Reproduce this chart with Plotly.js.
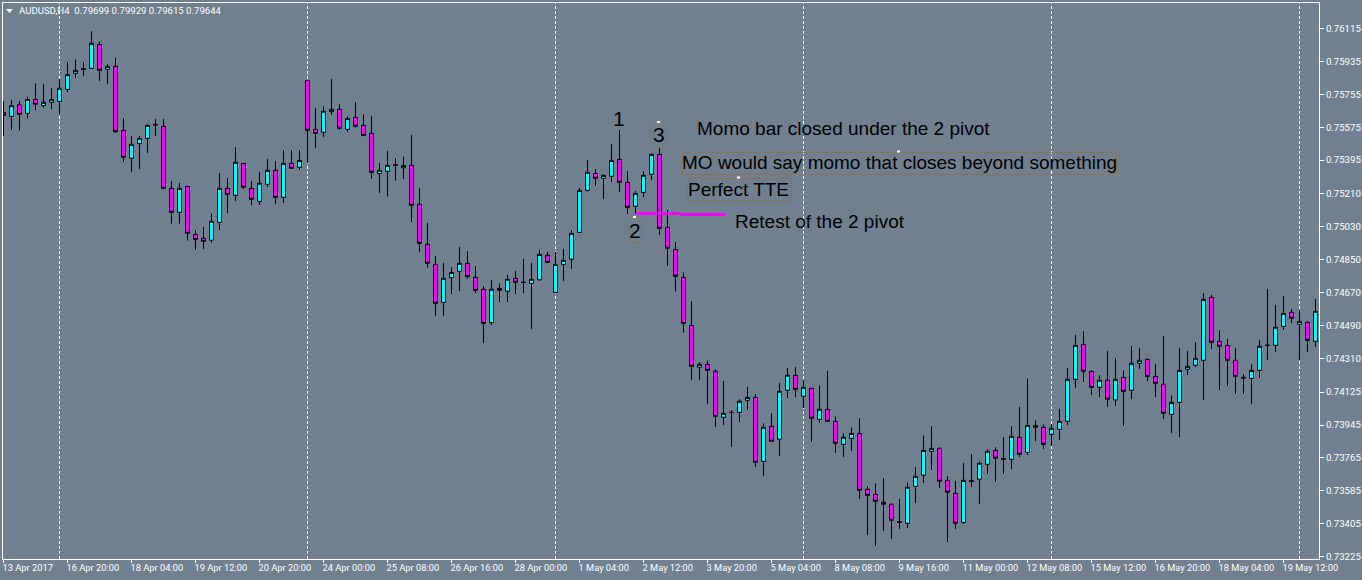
<!DOCTYPE html>
<html>
<head>
<meta charset="utf-8">
<script src="https://cdn.plot.ly/plotly-3.0.1.min.js"></script>
<style>html,body{margin:0;padding:0;background:#708090;overflow:hidden}</style>
</head>
<body>
<div id="chart" style="width:1362px;height:580px"></div>
<script>
// Prices, in units of 0.00001
const openPts = [75654,75634,75698,75651,75727,75693,75711,75716,75782,75870,75896,75897,76027,75892,75908,75558,75405,75485,75514,75591,75580,75240,75109,75251,74988,74967,74956,75054,75240,75202,75377,75240,75169,75262,75339,75191,75377,75355,75831,75563,75547,75660,75673,75563,75629,75585,75541,75321,75333,75370,75353,75366,75153,74934,74824,74616,74751,74786,74830,74753,74688,74505,74693,74677,74748,74726,74720,74740,74874,74671,74824,74852,74999,75229,75322,75295,75306,75399,75273,75142,75218,75317,75426,75027,74906,74753,74490,74261,74277,74239,73987,74014,74014,74080,74096,73746,73938,73867,74135,74217,74102,74146,73976,74031,73965,73839,73872,73899,73593,73566,73522,73511,73416,73407,73609,73670,73801,73817,73642,73571,73412,73641,73648,73730,73806,73761,73757,73878,73795,73943,73932,73894,73921,73965,74195,74386,74239,74151,74190,74082,74206,74135,74283,74304,74211,74168,74003,74069,74250,74272,74299,74644,74403,74381,74299,74206,74200,74244,74381,74381,74485,74562,74496,74507,74403];
const highPts = [75718,75724,75718,75742,75815,75811,75789,75839,75932,75946,75932,76100,76045,75919,75957,75625,75527,75527,75591,75620,75620,75280,75270,75251,75012,75029,75103,75324,75297,75466,75377,75280,75330,75401,75390,75450,75450,75450,75831,75680,75689,75839,75700,75632,75711,75645,75636,75379,75445,75406,75415,75532,75242,75051,74870,74832,74808,74919,74897,74815,74704,74739,74720,74766,74788,74854,74832,74903,74892,74892,74908,75012,75242,75395,75346,75317,75483,75560,75335,75226,75333,75432,75461,75122,74947,74781,74622,74288,74299,74250,74186,74027,74086,74153,74113,73954,74009,74175,74257,74262,74190,74146,74162,74241,73992,73899,73932,73982,73611,73626,73653,73516,73540,73631,73715,73888,73938,73823,73666,73639,73737,73785,73746,73812,73823,73878,73938,74044,74200,73971,73949,73949,74033,74257,74438,74459,74244,74217,74350,74312,74244,74377,74366,74310,74279,74432,74107,74366,74350,74397,74666,74657,74463,74416,74366,74222,74277,74410,74689,74602,74651,74580,74574,74512,74635];
const lowPts = [75527,75560,75556,75622,75669,75682,75674,75647,75767,75844,75855,75897,75828,75811,75545,75384,75330,75346,75434,75527,75235,75047,75047,74954,74903,74908,74943,75012,75105,75171,75238,75149,75149,75248,75154,75160,75348,75341,75379,75461,75521,75642,75560,75550,75574,75529,75293,75215,75195,75282,75291,75056,74892,74806,74542,74542,74662,74678,74744,74667,74394,74492,74618,74618,74662,74667,74470,74735,74832,74666,74733,74799,74999,75222,75253,75182,75275,75220,75100,75103,75193,75286,74985,74817,74675,74450,74191,74191,74060,73934,73945,73825,73961,74027,73715,73666,73856,73775,74093,74098,74038,73852,73956,73963,73792,73770,73803,73540,73343,73283,73365,73321,73376,73381,73518,73628,73699,73600,73305,73376,73403,73606,73513,73677,73633,73677,73704,73770,73781,73857,73814,73830,73863,73945,74148,74180,74109,74098,74044,74049,73940,74087,74252,74186,74098,73978,73901,73879,74219,74262,74082,74361,74137,74158,74115,74115,74060,74202,74301,74345,74467,74503,74301,74345,74372];
const closePts = [75640,75693,75645,75727,75700,75711,75727,75788,75862,75886,75891,76034,75886,75908,75550,75410,75481,75514,75585,75587,75240,75109,75240,74994,74961,74950,75060,75240,75207,75383,75246,75180,75268,75339,75191,75377,75350,75393,75558,75541,75662,75673,75569,75622,75580,75529,75328,75339,75366,75366,75366,75147,74939,74830,74611,74748,74780,74830,74757,74682,74501,74688,74682,74742,74726,74726,74742,74879,74835,74824,74846,74994,75229,75328,75295,75311,75393,75273,75136,75213,75311,75426,75021,74912,74759,74501,74266,74277,74244,73992,74009,74014,74075,74096,73741,73932,73856,74129,74217,74140,74151,73982,74031,73965,73845,73878,73899,73587,73560,73527,73511,73423,73412,73604,73664,73806,73817,73637,73577,73407,73642,73637,73735,73801,73763,73757,73883,73785,73943,73932,73839,73927,73965,74195,74381,74239,74151,74190,74086,74195,74129,74283,74299,74211,74173,74009,74069,74244,74266,74310,74633,74397,74376,74299,74211,74202,74244,74376,74381,74480,74556,74529,74512,74408,74567];

const priceTicks = ["0.76115","0.75935","0.75755","0.75575","0.75395","0.75210","0.75030","0.74850","0.74670","0.74490","0.74310","0.74125","0.73945","0.73765","0.73585","0.73405","0.73225"];
const timeLabels = ["13 Apr 2017","16 Apr 20:00","18 Apr 04:00","19 Apr 12:00","20 Apr 20:00","24 Apr 00:00","25 Apr 08:00","26 Apr 16:00","28 Apr 00:00","1 May 04:00","2 May 12:00","3 May 20:00","5 May 04:00","8 May 08:00","9 May 16:00","11 May 00:00","12 May 08:00","15 May 12:00","16 May 20:00","18 May 04:00","19 May 12:00"];
const labelEveryBars = 8;
const periodSeparators = [7,38,69,100,131,162];
const headerText = "AUDUSD,H4  0.79699 0.79929 0.79615 0.79644";

const price = p => p / 1e5;
const bars = openPts.map((_, i) => i);

// page-pixel helpers for the hand-drawn objects on the chart
const L = 3, T = 3, W = 1316, H = 556;
const X = px => (px - L) / W;
const Y = py => 1 - (py - T) / H;
const GREY = '#708090';
const UI = "Roboto,sans-serif";
const UISIZE = 9.3;
const DRAW = "'Liberation Sans',Arial,sans-serif";

const shapes = periodSeparators.map(b => ({
  type: 'line', xref: 'x', yref: 'paper', x0: b, x1: b, y0: 0, y1: 1, layer: 'below',
  line: {color: '#ffffff', width: 1, dash: '3px,2px'}
}));
// the two magenta retest lines
[[635.5, 680, 213.5], [680, 725, 214.5]].forEach(s => shapes.push({
  type: 'line', xref: 'paper', yref: 'paper', x0: X(s[0]), x1: X(s[1]), y0: Y(s[2]), y1: Y(s[2]),
  layer: 'below', line: {color: '#ff00ff', width: 3}
}));
// selection boxes round text objects
[[682.5, 152.5, 1116.5, 174.5], [687.5, 178.5, 791.5, 200.5], [653.5, 123.5, 665.5, 147.5], [629.5, 218.5, 641.5, 242.5]].forEach(b => shapes.push({
  type: 'rect', xref: 'paper', yref: 'paper', x0: X(b[0]), x1: X(b[2]), y0: Y(b[1]), y1: Y(b[3]),
  layer: 'above', line: {color: '#8a7458', width: 1}, fillcolor: 'rgba(0,0,0,0)'
}));
// small white anchor handles
[[658.5, 122], [634.5, 217], [738.5, 177.5], [898.5, 151.5]].forEach(d => shapes.push({
  type: 'rect', xref: 'paper', yref: 'paper', x0: X(d[0] - 1.5), x1: X(d[0] + 1.5), y0: Y(d[1] - 1), y1: Y(d[1] + 1),
  layer: 'above', line: {width: 0}, fillcolor: '#ffffff'
}));
// header triangle
shapes.push({
  type: 'path', xref: 'paper', yref: 'paper',
  path: `M ${X(6)} ${Y(9)} L ${X(13)} ${Y(9)} L ${X(9.5)} ${Y(13)} Z`,
  fillcolor: '#ffffff', line: {width: 0}, layer: 'above'
});

const note = (text, px, py, size, anchor) => ({
  text, xref: 'paper', yref: 'paper', x: X(px), y: Y(py), xanchor: anchor || 'left', yanchor: 'middle',
  showarrow: false, borderpad: 0, font: {family: DRAW, size: size, color: '#000000'}
});
const annotations = [
  note('Momo bar closed under the 2 pivot', 696, 128.6, 19),
  note('MO would say momo that closes beyond something', 681, 162.6, 19),
  note('Perfect TTE', 686.5, 189.6, 19),
  note('Retest of the 2 pivot', 733.5, 221.6, 19),
  note('1', 618.5, 118, 21, 'center'),
  note('2', 634.5, 230, 21, 'center'),
  note('3', 659, 135, 21, 'center'),
  {text: headerText.replace('  ', '&nbsp;&nbsp;'), xref: 'paper', yref: 'paper', x: X(18), y: Y(10.5), xanchor: 'left', yanchor: 'middle',
   showarrow: false, borderpad: 0, font: {family: UI, size: 9.6, color: '#ffffff'}}
];

const trace = {
  type: 'candlestick',
  x: bars,
  open: openPts.map(price), high: highPts.map(price), low: lowPts.map(price), close: closePts.map(price),
  whiskerwidth: 0,
  increasing: {line: {color: '#000000', width: 1}, fillcolor: '#00ffff'},
  decreasing: {line: {color: '#000000', width: 1}, fillcolor: '#ff00ff'},
  hoverinfo: 'skip'
};

const layout = {
  width: 1362, height: 580,
  margin: {l: L, r: 43, t: T, b: 21, pad: 0},
  paper_bgcolor: GREY, plot_bgcolor: GREY,
  showlegend: false, dragmode: false, boxgap: 0.5, boxgroupgap: 0,
  font: {family: UI, size: UISIZE, color: '#ffffff'},
  xaxis: {
    type: 'linear', range: [-0.0625, 164.4375], showgrid: false, zeroline: false,
    rangeslider: {visible: false},
    tickmode: 'array', tickvals: timeLabels.map((_, i) => i * labelEveryBars), ticktext: timeLabels,
    ticks: 'outside', ticklen: 3, tickwidth: 1, tickcolor: '#ffffff', tickangle: 0,
    ticklabelposition: 'outside right', ticklabelshift: -2,
    showline: true, linecolor: '#ffffff', linewidth: 1, mirror: true,
    tickfont: {family: UI, size: UISIZE, color: '#ffffff'}
  },
  yaxis: {
    type: 'linear', side: 'right', range: [0.732116, 0.762546], showgrid: false, zeroline: false,
    tickmode: 'array', tickvals: priceTicks.map(Number), ticktext: priceTicks,
    ticks: 'outside', ticklen: 4, tickwidth: 1, tickcolor: '#ffffff',
    showline: true, linecolor: '#ffffff', linewidth: 1, mirror: true,
    tickfont: {family: UI, size: 9.6, color: '#ffffff'}
  },
  shapes, annotations
};

Plotly.newPlot('chart', [trace], layout, {staticPlot: true, displayModeBar: false});
</script>
</body>
</html>
